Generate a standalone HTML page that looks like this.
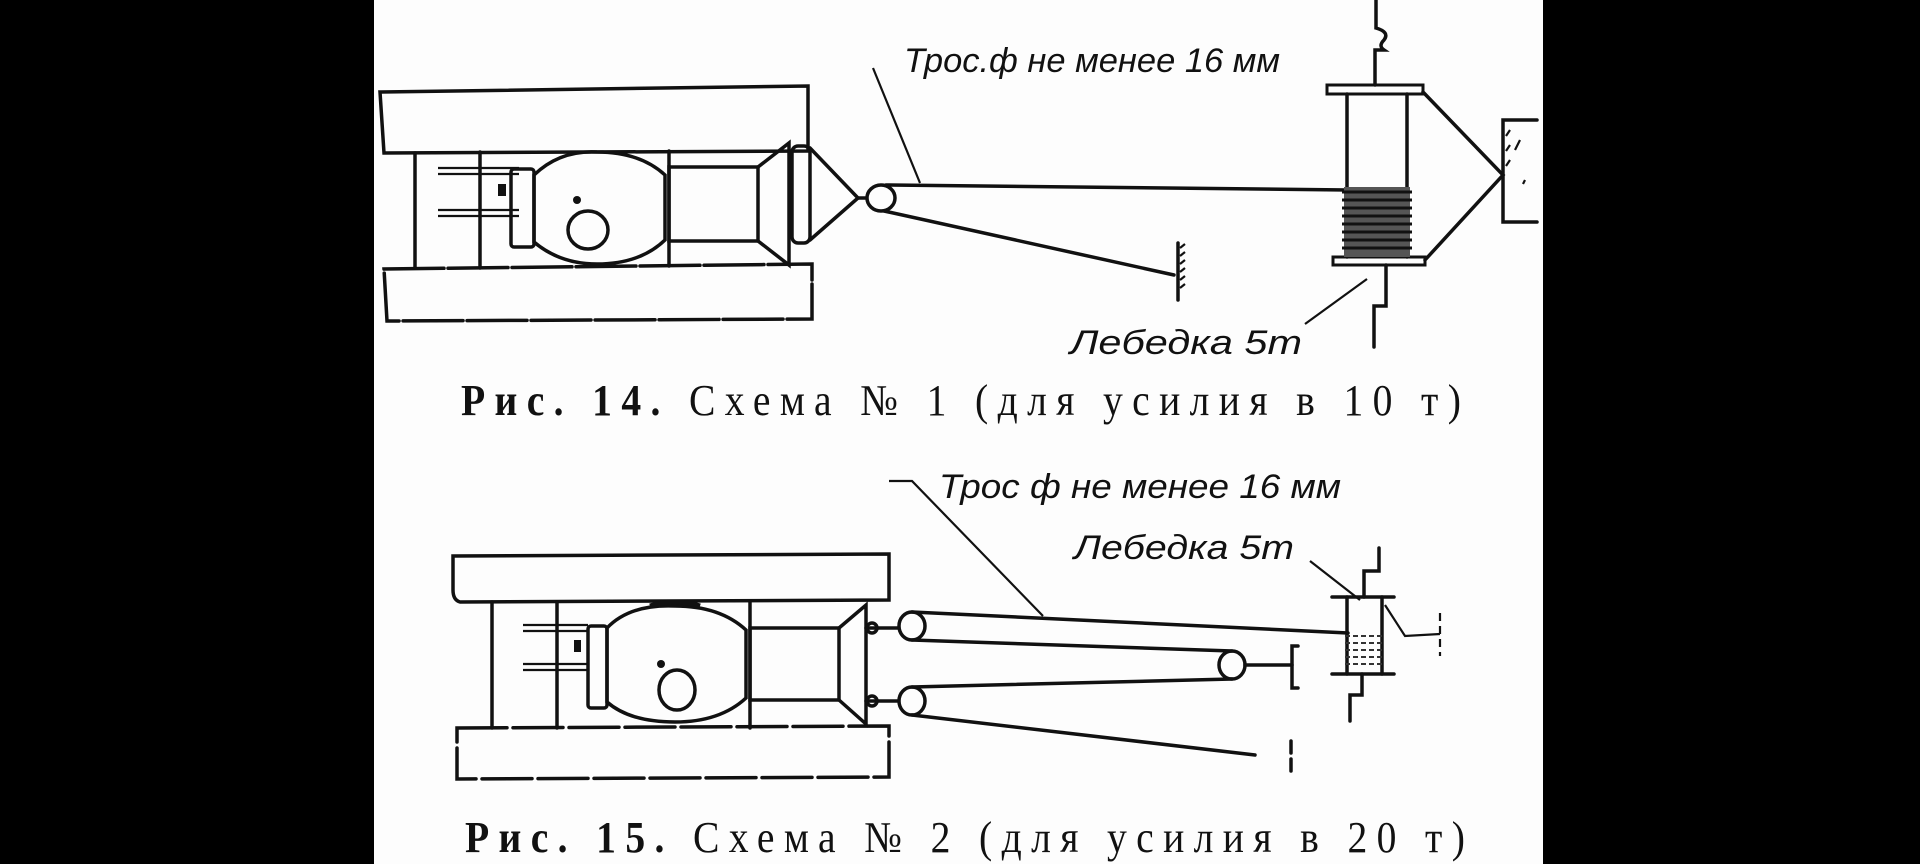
<!DOCTYPE html>
<html><head><meta charset="utf-8"><style>
html,body{margin:0;padding:0;background:#000;}
svg{display:block}
.l{stroke:#111;stroke-width:3.5;fill:none;stroke-linecap:round}
.t{stroke:#111;stroke-width:2.2;fill:none}
.it{font-family:"Liberation Sans",sans-serif;font-style:italic;fill:#111}
.cap{font-family:"Liberation Serif",serif;fill:#111}
</style></head><body>
<svg width="1920" height="864" viewBox="0 0 1920 864" xmlns="http://www.w3.org/2000/svg">
<rect x="0" y="0" width="1920" height="864" fill="#000"/>
<rect x="374" y="0" width="1169" height="864" fill="#fdfdfd"/>

<!-- ===== Fig 14 ===== -->
<path class="l" d="M380 92 L808 86 L808 151 L384 153 Z"/>
<path class="l" d="M384 269 L812 264 L812 319 L387 321 Z" stroke-dasharray="60 4"/>
<line class="l" x1="415" y1="153" x2="415" y2="268"/>
<line class="l" x1="480" y1="152" x2="480" y2="268"/>
<line class="l" x1="669" y1="151" x2="669" y2="266"/>
<line class="t" x1="438" y1="168" x2="519" y2="168"/><line class="t" x1="438" y1="174" x2="519" y2="174"/>
<line class="t" x1="438" y1="210" x2="519" y2="210"/><line class="t" x1="438" y1="216" x2="519" y2="216"/>
<rect x="498" y="184" width="8" height="12" fill="#111"/>
<rect class="l" x="511" y="169" width="23" height="78" rx="3"/>
<path class="l" d="M534 175 Q560 150 597 152 Q640 152 665 175 L665 240 Q640 264 597 264 Q560 264 534 242 Z"/>
<ellipse class="l" cx="588" cy="230" rx="20" ry="19"/>
<circle cx="577" cy="200" r="4" fill="#111"/>
<rect class="l" x="669" y="167" width="89" height="74"/>
<path class="l" d="M758 167 L789 143 L789 265 L758 241"/>
<rect class="l" x="792" y="146" width="18" height="97" rx="6"/>
<path class="l" d="M810 148 L858 198 L810 240"/>
<line class="l" x1="858" y1="198" x2="866" y2="198"/>
<ellipse class="l" cx="881" cy="198" rx="14" ry="13"/>
<line class="l" x1="886" y1="185" x2="1348" y2="190"/>
<line class="l" x1="884" y1="211" x2="1174" y2="275"/>
<line class="l" x1="1178" y1="243" x2="1178" y2="300"/>
<path class="t" d="M1180 248 l5 -4 M1180 256 l5 -4 M1180 264 l5 -4 M1180 272 l5 -4 M1180 280 l5 -4 M1180 288 l5 -4"/>
<line class="t" x1="873" y1="68" x2="920" y2="183"/>
<text class="it" x="904" y="72" font-size="34" textLength="376" lengthAdjust="spacingAndGlyphs">Трос.ф не менее 16 мм</text>
<!-- winch 1 -->
<rect x="1327" y="85" width="96" height="9" fill="none" stroke="#111" stroke-width="3"/>
<rect x="1333" y="257" width="92" height="8" fill="none" stroke="#111" stroke-width="3"/>
<line class="l" x1="1347" y1="94" x2="1347" y2="257"/>
<line class="l" x1="1407" y1="94" x2="1407" y2="257"/>
<rect x="1344" y="187" width="66" height="70" fill="#555"/>
<g stroke="#111" stroke-width="3">
<line x1="1342" y1="192" x2="1412" y2="192"/><line x1="1342" y1="200" x2="1412" y2="200"/><line x1="1342" y1="208" x2="1412" y2="208"/><line x1="1342" y1="216" x2="1412" y2="216"/><line x1="1342" y1="224" x2="1412" y2="224"/><line x1="1342" y1="232" x2="1412" y2="232"/><line x1="1342" y1="240" x2="1412" y2="240"/><line x1="1342" y1="248" x2="1412" y2="248"/>
</g>
<path class="l" d="M1376 0 L1376 28 Q1390 32 1384 40 Q1378 46 1384 50 L1375 50 L1375 85"/>
<path class="l" d="M1386 265 L1386 306 L1374 306 L1374 347"/>
<path class="l" d="M1423 92 L1503 175 L1425 260"/>
<path class="l" d="M1537 120 L1503 120 L1503 222 L1537 222"/>
<path class="t" d="M1510 130 l-4 6 M1510 145 l-4 6 M1510 160 l-4 6 M1520 140 l-5 10 M1525 180 l-2 4"/>
<line class="t" x1="1305" y1="324" x2="1367" y2="279"/>
<text class="it" x="1070" y="354" font-size="34" textLength="232" lengthAdjust="spacingAndGlyphs">Лебедка 5т</text>
<g transform="translate(461,415) scale(0.9,1)">
<text class="cap" x="0" y="0" font-size="44" textLength="1111" lengthAdjust="spacing"><tspan font-weight="bold">Рис. 14.</tspan> Схема № 1 (для усилия в 10 т)</text>
</g>

<!-- ===== Fig 15 ===== -->
<path class="l" d="M453 556 L889 554 L889 600 L460 602 Q453 600 453 590 Z"/>
<path class="l" d="M457 728 L889 726 L889 777 L457 779 Z" stroke-dasharray="50 6"/>
<line class="l" x1="492" y1="602" x2="492" y2="728"/>
<line class="l" x1="557" y1="602" x2="557" y2="728"/>
<line class="l" x1="750" y1="602" x2="750" y2="728"/>
<line class="t" x1="523" y1="625" x2="588" y2="625"/><line class="t" x1="523" y1="631" x2="588" y2="631"/>
<line class="t" x1="523" y1="664" x2="588" y2="664"/><line class="t" x1="523" y1="670" x2="588" y2="670"/>
<rect x="574" y="640" width="7" height="12" fill="#111"/>
<rect class="l" x="588" y="626" width="19" height="82" rx="3"/>
<path class="l" d="M607 628 Q630 604 675 606 Q720 606 746 630 L746 698 Q720 722 675 722 Q630 722 607 702 Z"/>
<path d="M650 606 Q675 598 700 606" stroke="#111" stroke-width="5" fill="none"/>
<ellipse class="l" cx="677" cy="690" rx="18" ry="20"/>
<circle cx="661" cy="664" r="4" fill="#111"/>
<rect class="l" x="750" y="628" width="89" height="72"/>
<path class="l" d="M839 628 L866 605 L866 724 L839 700"/>
<line class="l" x1="866" y1="628" x2="898" y2="628"/>
<line class="l" x1="866" y1="701" x2="898" y2="701"/>
<circle class="l" cx="872" cy="628" r="5"/><circle class="l" cx="872" cy="701" r="5"/>
<ellipse class="l" cx="912" cy="626" rx="13" ry="14"/>
<ellipse class="l" cx="912" cy="701" rx="13" ry="14"/>
<ellipse class="l" cx="1232" cy="665" rx="13" ry="14"/>
<line class="l" x1="912" y1="612" x2="1348" y2="633"/>
<line class="l" x1="912" y1="640" x2="1232" y2="651"/>
<line class="l" x1="912" y1="687" x2="1232" y2="679"/>
<line class="l" x1="912" y1="715" x2="1255" y2="755"/>
<line class="l" x1="1245" y1="665" x2="1292" y2="665"/>
<path class="l" d="M1298 646 L1292 646 L1292 688 L1298 688"/>
<line class="l" x1="1291" y1="741" x2="1291" y2="773" stroke-dasharray="12 6"/>
<!-- winch 2 -->
<line class="l" x1="1332" y1="597" x2="1394" y2="597"/>
<line class="l" x1="1332" y1="674" x2="1394" y2="674"/>
<line class="l" x1="1347" y1="597" x2="1347" y2="674"/>
<line class="l" x1="1382" y1="597" x2="1382" y2="674"/>
<g stroke="#333" stroke-width="2" stroke-dasharray="5 3">
<line x1="1345" y1="636" x2="1385" y2="636"/><line x1="1345" y1="643" x2="1385" y2="643"/><line x1="1345" y1="650" x2="1385" y2="650"/><line x1="1345" y1="657" x2="1385" y2="657"/><line x1="1345" y1="664" x2="1385" y2="664"/>
</g>
<path class="l" d="M1379 548 L1379 571 L1364 571 L1364 597"/>
<path class="l" d="M1362 674 L1362 695 L1350 695 L1350 721"/>
<path class="t" d="M1385 605 L1405 636 L1440 634"/>
<line class="t" x1="1440" y1="613" x2="1440" y2="656" stroke-dasharray="8 5"/>
<path class="t" d="M889 481 L912 481 L1043 616"/>
<text class="it" x="939" y="498" font-size="34" textLength="402" lengthAdjust="spacingAndGlyphs">Трос ф не менее 16 мм</text>
<text class="it" x="1074" y="559" font-size="34" textLength="220" lengthAdjust="spacingAndGlyphs">Лебедка 5т</text>
<line class="t" x1="1310" y1="561" x2="1360" y2="600"/>
<g transform="translate(465,852) scale(0.9,1)">
<text class="cap" x="0" y="0" font-size="44" textLength="1111" lengthAdjust="spacing"><tspan font-weight="bold">Рис. 15.</tspan> Схема № 2 (для усилия в 20 т)</text>
</g>
</svg>
</body></html>
